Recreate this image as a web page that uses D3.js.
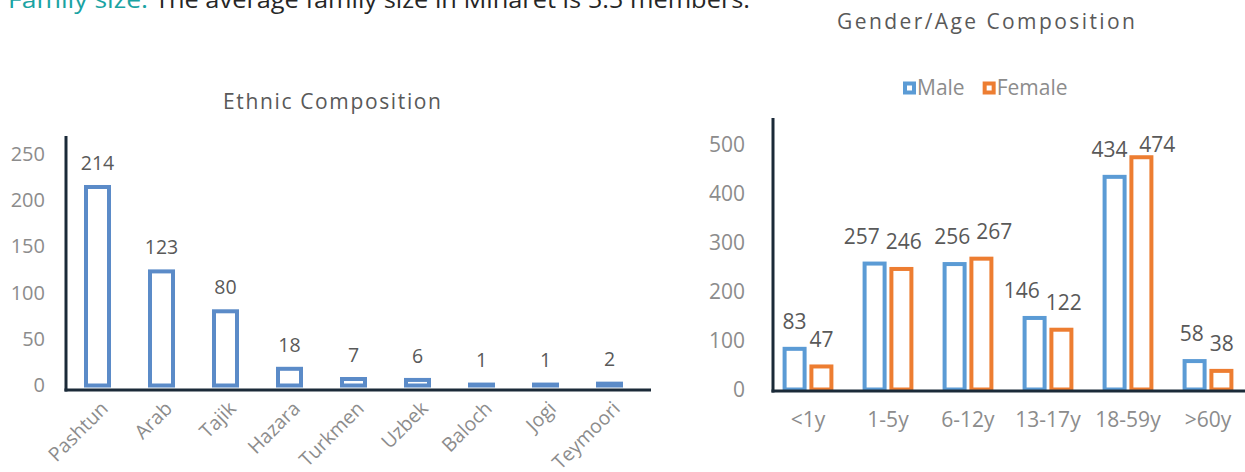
<!DOCTYPE html>
<html>
<head>
<meta charset="utf-8">
<script src="https://cdn.jsdelivr.net/npm/d3@7/dist/d3.min.js"></script>
<style>
  html, body { margin: 0; padding: 0; background: #ffffff; }
  svg { display: block; font-family: "Open Sans", "Noto Sans", sans-serif; }
</style>
</head>
<body>
<svg id="chart" width="1245" height="472"></svg>
<script>
// Ethnic composition of households
const ethnicCategories = ["Pashtun", "Arab", "Tajik", "Hazara", "Turkmen", "Uzbek", "Baloch", "Jogi", "Teymoori"];
const ethnicCounts = [214, 123, 80, 18, 7, 6, 1, 1, 2];
const ethnicTicks = [0, 50, 100, 150, 200, 250];

// Gender / age composition of household members
const ageGroups = ["<1y", "1-5y", "6-12y", "13-17y", "18-59y", ">60y"];
const genderSeries = ["Male", "Female"];
const maleCounts = [83, 257, 256, 146, 434, 58];
const femaleCounts = [47, 246, 267, 122, 474, 38];
const ageTicks = [0, 100, 200, 300, 400, 500];

const svg = d3.select("#chart");
const AXIS_COLOR = "#1b2a38";
const TICK_COLOR = "#8c8c8c";
const LABEL_COLOR = "#595959";
const ETHNIC_BLUE = "#5b8bc8";
const genderColor = d3.scaleOrdinal(genderSeries, ["#5b9bd5", "#ed7d31"]);

// ---------- heading sentence (partly above the page edge) ----------
svg.append("text")
  .attr("x", 8).attr("y", 8)
  .attr("font-size", 24)
  .attr("fill", "#1aa3a3")
  .attr("textLength", 140).attr("lengthAdjust", "spacingAndGlyphs")
  .text("Family size:");
svg.append("text")
  .attr("x", 155).attr("y", 8)
  .attr("font-size", 24)
  .attr("fill", "#262626")
  .attr("textLength", 595).attr("lengthAdjust", "spacingAndGlyphs")
  .text("The average family size in Minaret is 5.5 members.");

// ---------- Ethnic Composition ----------
const left = svg.append("g");
const ex = d3.scaleBand().domain(ethnicCategories).range([65.5, 641.5]);
const ey = d3.scaleLinear().domain([0, 250]).range([385.5, 153.6]);

left.append("text")
  .attr("x", 332).attr("y", 109)
  .attr("text-anchor", "middle")
  .attr("font-size", 21)
  .attr("fill", LABEL_COLOR)
  .attr("textLength", 218).attr("lengthAdjust", "spacing")
  .text("Ethnic Composition");

const eyAxis = left.append("g")
  .attr("transform", "translate(66,0)")
  .call(d3.axisLeft(ey).tickValues(ethnicTicks).tickSize(0).tickPadding(21));
eyAxis.select(".domain").remove();
eyAxis.selectAll("text")
  .attr("font-family", "Open Sans")
  .attr("font-size", 20)
  .attr("fill", TICK_COLOR);

const eBarW = 23;
left.selectAll("rect.bar")
  .data(ethnicCounts)
  .join("rect")
  .attr("class", "bar")
  .attr("x", (d, i) => ex(ethnicCategories[i]) + ex.bandwidth() / 2 - eBarW / 2)
  .attr("y", d => ey(d))
  .attr("width", eBarW)
  .attr("height", d => ey(0) - ey(d))
  .attr("fill", "#ffffff")
  .attr("stroke", ETHNIC_BLUE)
  .attr("stroke-width", 4);

left.selectAll("text.value")
  .data(ethnicCounts)
  .join("text")
  .attr("class", "value")
  .attr("x", (d, i) => ex(ethnicCategories[i]) + ex.bandwidth() / 2)
  .attr("y", d => ey(d) - 24)
  .attr("dy", "0.35em")
  .attr("text-anchor", "middle")
  .attr("font-size", 19.5)
  .attr("fill", LABEL_COLOR)
  .text(d => d);

left.selectAll("text.cat")
  .data(ethnicCategories)
  .join("text")
  .attr("class", "cat")
  .attr("transform", d => `translate(${ex(d) + ex.bandwidth() / 2 + 7},${405}) rotate(-45)`)
  .attr("text-anchor", "end")
  .attr("dy", "0.35em")
  .attr("font-size", 19.5)
  .attr("fill", TICK_COLOR)
  .text(d => d);

// axis lines
left.append("line")
  .attr("x1", 66).attr("x2", 66).attr("y1", 136).attr("y2", 391.5)
  .attr("stroke", AXIS_COLOR).attr("stroke-width", 3);
left.append("line")
  .attr("x1", 64.5).attr("x2", 651).attr("y1", 390).attr("y2", 390)
  .attr("stroke", AXIS_COLOR).attr("stroke-width", 3);

// ---------- Gender/Age Composition ----------
const right = svg.append("g");
const gx = d3.scaleBand().domain(ageGroups).range([768, 1248]);
const gx1 = d3.scaleBand().domain(genderSeries).range([-26.8, 26.8]);
const gy = d3.scaleLinear().domain([0, 500]).range([389.5, 144.5]);

right.append("text")
  .attr("x", 986).attr("y", 29)
  .attr("text-anchor", "middle")
  .attr("font-size", 21)
  .attr("fill", LABEL_COLOR)
  .attr("textLength", 298).attr("lengthAdjust", "spacing")
  .text("Gender/Age Composition");

// legend
const legend = right.append("g").attr("transform", "translate(903,88)");
let lx = 0;
genderSeries.forEach(name => {
  const item = legend.append("g").attr("transform", `translate(${lx},0)`);
  item.append("rect")
    .attr("x", 2).attr("y", -4.5)
    .attr("width", 9).attr("height", 9)
    .attr("fill", "#ffffff")
    .attr("stroke", genderColor(name))
    .attr("stroke-width", 4);
  const t = item.append("text")
    .attr("x", 14).attr("y", 0).attr("dy", "0.35em")
    .attr("font-size", 21)
    .attr("fill", TICK_COLOR)
    .text(name);
  lx += 14 + t.node().getComputedTextLength() + 18;
});

const gyAxis = right.append("g")
  .attr("transform", "translate(773,0)")
  .call(d3.axisLeft(gy).tickValues(ageTicks).tickSize(0).tickPadding(28));
gyAxis.select(".domain").remove();
gyAxis.selectAll("text")
  .attr("font-family", "Open Sans")
  .attr("font-size", 21)
  .attr("fill", TICK_COLOR);

const gxAxis = right.append("g")
  .attr("transform", "translate(0,391)")
  .call(d3.axisBottom(gx).tickSize(0).tickPadding(21));
gxAxis.select(".domain").remove();
gxAxis.selectAll("text")
  .attr("font-family", "Open Sans")
  .attr("font-size", 21)
  .attr("fill", TICK_COLOR);

const rows = ageGroups.map((g, i) => ({
  group: g,
  values: [
    { series: "Male", value: maleCounts[i] },
    { series: "Female", value: femaleCounts[i] }
  ]
}));

const gBarW = 20;
const groups = right.selectAll("g.age")
  .data(rows)
  .join("g")
  .attr("class", "age")
  .attr("transform", d => `translate(${gx(d.group) + gx.bandwidth() / 2},0)`);

groups.selectAll("rect")
  .data(d => d.values)
  .join("rect")
  .attr("x", d => gx1(d.series) + gx1.bandwidth() / 2 - gBarW / 2)
  .attr("y", d => gy(d.value))
  .attr("width", gBarW)
  .attr("height", d => gy(0) - gy(d.value))
  .attr("fill", "#ffffff")
  .attr("stroke", d => genderColor(d.series))
  .attr("stroke-width", 4);

// value labels: sit above each bar, kept inside the plot and pushed apart when they collide;
// a label must also stay clear of the neighbouring bar
const labelSize = 21;
groups.each(function (row) {
  const g = d3.select(this);
  const labels = row.values.map(v => {
    const t = g.append("text")
      .attr("text-anchor", "middle")
      .attr("dy", "0.35em")
      .attr("font-size", labelSize)
      .attr("fill", LABEL_COLOR)
      .text(v.value);
    return {
      node: t,
      value: v.value,
      cx: gx1(v.series) + gx1.bandwidth() / 2,
      top: gy(v.value) - 2,
      cy: Math.max(gy(v.value) - 27, gy(500)),
      w: t.node().getComputedTextLength()
    };
  });
  const [m, f] = labels;
  const vOverlap = Math.abs(m.cy - f.cy) < labelSize * 0.75;
  const need = (m.w + f.w) / 2 + 6 - (f.cx - m.cx);
  if (vOverlap && need > 0) {
    const tallerMale = m.value >= f.value;
    m.cx -= need * (tallerMale ? 0.85 : 0.15);
    f.cx += need * (tallerMale ? 0.15 : 0.85);
  }
  // keep each label off the sibling bar
  const half = gBarW / 2 + 2;
  const mBarLeftOfF = gx1("Female") + gx1.bandwidth() / 2 - half;
  if (m.cy + labelSize * 0.4 > f.top && m.cx + m.w / 2 > mBarLeftOfF - 2) {
    const shift = (m.cx + m.w / 2) - (mBarLeftOfF - 2);
    m.cx -= shift;
    f.cx += shift;
  }
  labels.forEach(l => l.node.attr("x", l.cx).attr("y", l.cy));
});

// axis lines
right.append("line")
  .attr("x1", 773).attr("x2", 773).attr("y1", 118).attr("y2", 392.5)
  .attr("stroke", AXIS_COLOR).attr("stroke-width", 3);
right.append("line")
  .attr("x1", 771.5).attr("x2", 1245).attr("y1", 391).attr("y2", 391)
  .attr("stroke", AXIS_COLOR).attr("stroke-width", 3);
</script>
</body>
</html>
